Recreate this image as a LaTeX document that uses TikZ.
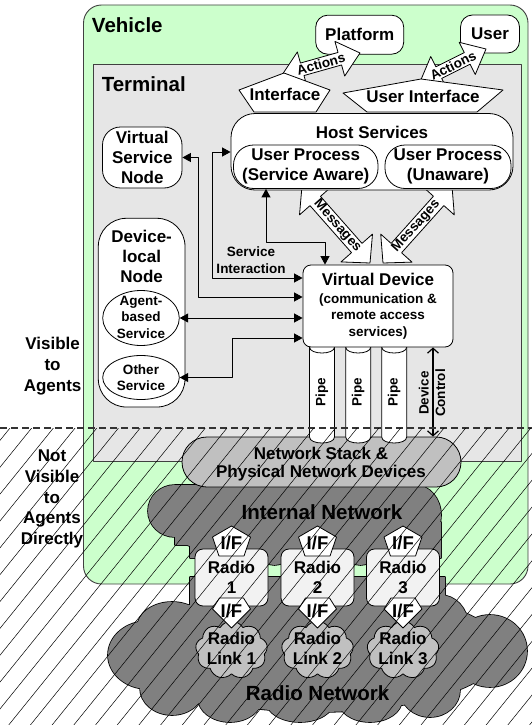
\documentclass[tikz,border=0pt]{standalone}
\usepackage{fontspec}
\setmainfont{Liberation Sans}
\usetikzlibrary{arrows.meta,calc,shapes.symbols,shapes.geometric}

\definecolor{vehgreen}{HTML}{CCFFCC}
\definecolor{termgray}{HTML}{E6E6E6}
\definecolor{stackgray}{HTML}{C0C0C0}
\definecolor{netgray}{HTML}{808080}
\definecolor{radiogray}{HTML}{F2F2F2}

\newcommand\txtbig{\fontsize{20.5}{24}\selectfont\bfseries}
\newcommand\txtmid{\fontsize{17}{20}\selectfont\bfseries}
\newcommand\txtsmall{\fontsize{13.5}{16.5}\selectfont\bfseries}
\newcommand\txtif{\fontsize{18.5}{20}\selectfont\bfseries}

% double-headed block arrow: from, to, head length, head half width, shaft half width
\newcommand\blockarrow[5]{%
  \draw[blockarr] (#1)
    -- ($(#1)!#3!(#2)!#4!90:(#2)$) -- ($(#1)!#3!(#2)!#5!90:(#2)$)
    -- ($(#2)!#3!(#1)!#5!-90:(#1)$) -- ($(#2)!#3!(#1)!#4!-90:(#1)$)
    -- (#2)
    -- ($(#2)!#3!(#1)!#4!90:(#1)$) -- ($(#2)!#3!(#1)!#5!90:(#1)$)
    -- ($(#1)!#3!(#2)!#5!-90:(#2)$) -- ($(#1)!#3!(#2)!#4!-90:(#2)$)
    -- cycle;}

% outline pieces of the two network clouds
\newcommand\internalnet{
  (175,511) ellipse [x radius=27pt, y radius=26pt]
  (175,485) rectangle (415,545)
  (415,515) ellipse [x radius=26pt, y radius=30pt]
  (190,522) rectangle (441,558)
  (203,535) ellipse [x radius=25pt, y radius=13pt]
  (274.5,557) ellipse [x radius=12pt, y radius=8pt]
  (360.5,557) ellipse [x radius=12pt, y radius=8pt]}
\newcommand\radionet{
  (317,650) ellipse [x radius=185pt, y radius=62pt]
  (190,577) rectangle (445,640)
  (148,655) ellipse [x radius=40pt, y radius=34pt]
  (172,628) ellipse [x radius=35pt, y radius=26pt]
  (440,625) ellipse [x radius=28pt, y radius=30pt]
  (490,651) ellipse [x radius=37pt, y radius=36pt]
  (430,690) ellipse [x radius=30pt, y radius=27pt]
  (370,700) ellipse [x radius=32pt, y radius=22pt]
  (300,701) ellipse [x radius=34pt, y radius=21pt]
  (230,698) ellipse [x radius=32pt, y radius=24pt]
  (172,688) ellipse [x radius=32pt, y radius=27pt]}

\begin{document}
\begin{tikzpicture}[x=1pt,y=-1pt,line join=round,
  frame/.style={draw=black!75, line width=0.9pt, inner sep=0pt},
  rbox/.style={draw=black, fill=white, line width=0.8pt, inner sep=0pt, align=center},
  lbl/.style={inner sep=0pt, align=center},
  conn/.style={draw=black, line width=0.9pt,
    {Triangle[length=8.5pt,width=9pt]}-{Triangle[length=8.5pt,width=9pt]}},
  devarrow/.style={draw=black, line width=1.2pt,
    {Straight Barb[length=5pt,width=11pt]}-{Straight Barb[length=5pt,width=11pt]}},
  blockarr/.style={draw=black, fill=white, line width=0.8pt},
  pentagonbox/.style={draw=black, fill=white, line width=0.8pt},
  pipebody/.style={fill=white},
  pipeline/.style={draw=black, line width=0.8pt},
  linkcloud/.style={draw=black, fill=stackgray, line width=0.8pt, cloud, cloud puffs=9,
    cloud puff arc=120, cloud ignores aspect, minimum width=72pt, minimum height=58pt, inner sep=0pt},
  hatchline/.style={draw=black, line width=0.5pt},
  divider/.style={draw=black!80, line width=1.4pt, dash pattern=on 7pt off 4pt}]

\useasboundingbox (0,0) rectangle (532,725);

% vehicle and terminal frames
\node[frame, fill=vehgreen, rounded corners=18pt, minimum width=444.5pt, minimum height=579pt] (vehicle) at (305.75,294.5) {};
\node[lbl, font=\txtbig] (vehlbl) at (127.3,24.8) {Vehicle};
\node[frame, fill=termgray, minimum width=428.2pt, minimum height=396.5pt] (terminal) at (307.4,262.75) {};
\node[lbl, font=\txtbig] (termlbl) at (143.8,84) {Terminal};

% platform and user
\node[rbox, rounded corners=12pt, minimum width=88pt, minimum height=39pt, font=\txtmid] (platform) at (359.7,34.7) {Platform};
\node[rbox, rounded corners=12pt, minimum width=59pt, minimum height=38pt, font=\txtmid] (user) at (490,34) {User};

% action arrows
\coordinate (act1a) at (282,75);
\coordinate (act1b) at (360,53);
\coordinate (act2a) at (420,82);
\coordinate (act2b) at (486,49);
\blockarrow{act1a}{act1b}{21pt}{18pt}{6.5pt}
\blockarrow{act2a}{act2b}{21pt}{18pt}{6.5pt}

% interfaces
\draw[pentagonbox] (239,90) -- (284,73) -- (330,90) -- (316,112) -- (254,112) -- cycle;
\node[lbl, font=\txtmid] (iface) at (285,94) {Interface};
\draw[pentagonbox] (343,93) -- (421,79) -- (503,90) -- (477,112) -- (367,112) -- cycle;
\node[lbl, font=\txtmid] (uiface) at (423,96) {User Interface};
\path (act1a) -- (act1b) node[lbl, midway, sloped, font=\txtsmall] (act1lbl) {Actions};
\path (act2a) -- (act2b) node[lbl, midway, sloped, font=\txtsmall] (act2lbl) {Actions};

% message arrows
\coordinate (msg1a) at (302,186);
\coordinate (msg1b) at (370,263);
\coordinate (msg2a) at (452,186);
\coordinate (msg2b) at (383,263);
\blockarrow{msg1a}{msg1b}{20pt}{21pt}{7pt}
\blockarrow{msg2a}{msg2b}{20pt}{21pt}{7pt}
\path (msg1a) -- (msg1b) node[lbl, pos=0.52, sloped, font=\txtsmall] (msg1lbl) {Messages};
\path (msg2b) -- (msg2a) node[lbl, pos=0.48, sloped, font=\txtsmall] (msg2lbl) {Messages};

% host services
\node[rbox, rounded corners=24pt, minimum width=282pt, minimum height=76.5pt] (hostsvc) at (372,151.75) {};
\node[lbl, font=\txtmid] (hostlbl) at (372,132) {Host Services};
\node[rbox, rounded corners=20pt, minimum width=144.5pt, minimum height=43.5pt, font=\txtmid] (upaware) at (305.75,166.75) {User Process\\(Service Aware)};
\node[rbox, rounded corners=20pt, minimum width=126pt, minimum height=43.5pt, font=\txtmid] (upunaware) at (448,166.75) {User Process\\(Unaware)};

% service nodes
\node[rbox, rounded corners=18pt, minimum width=79.5pt, minimum height=61pt, font=\txtmid] (vsn) at (142.25,157.5) {Virtual\\Service\\Node};
\node[rbox, rounded corners=28pt, minimum width=86.7pt, minimum height=188.7pt] (dln) at (141.65,312.65) {};
\node[lbl, font=\txtmid] (dlnlbl) at (141.65,256.5) {Device-\\local\\Node};
\node[rbox, ellipse, minimum width=76.6pt, minimum height=55pt] (agentsvc) at (141,318) {};
\node[lbl, font=\txtsmall] (agentlbl) at (141,317) {Agent-\\based\\Service};
\node[rbox, ellipse, minimum width=76.6pt, minimum height=44pt] (othersvc) at (141,377.5) {};
\node[lbl, font=\txtsmall] (otherlbl) at (141,377.5) {Other\\Service};

% internal network and network stack
\draw[fill=netgray, draw=black, line width=1.6pt] \internalnet;
\fill[netgray] \internalnet;
\node[rbox, fill=stackgray, rounded corners=25pt, minimum width=279pt, minimum height=50pt] (nstack) at (321.5,462) {};
\node[lbl, font=\fontsize{17}{17.5}\selectfont\bfseries] (nstacklbl) at (321,464) {Network Stack \&\\Physical Network Devices};
\node[lbl, font=\txtbig] (intnetlbl) at (322,512.6) {Internal Network};

% pipes
\foreach \px in {309.5,345.7,381.7}{
  \path[pipebody] (\px,343) -- (\px,437) .. controls (\px,445) and (\px+25,445) .. (\px+25,437) -- (\px+25,343) -- cycle;
  \draw[pipeline] (\px,343) -- (\px,437) .. controls (\px,445) and (\px+25,445) .. (\px+25,437) -- (\px+25,343);
  \draw[pipeline] (\px,347) .. controls (\px,355) and (\px+25,355) .. (\px+25,347);
}
\node[lbl, rotate=90, font=\txtsmall] (pipe1) at (322,392) {Pipe};
\node[lbl, rotate=90, font=\txtsmall] (pipe2) at (358.2,392) {Pipe};
\node[lbl, rotate=90, font=\txtsmall] (pipe3) at (394.2,392) {Pipe};

% virtual device
\node[rbox, rounded corners=8pt, minimum width=150pt, minimum height=82pt, font=\txtsmall] (vd) at (378,306)
  {{\txtmid Virtual Device}\\[1.5pt](communication \&\\remote access\\services)};

% device control
\draw[devarrow] (vd.south -| 433,0) -- (nstack.north -| 433,0);
\node[lbl, rotate=90, font=\txtsmall] (dctl) at (432,393) {Device\\Control};

% service connectors
\draw[conn] (vsn.east) -- (198,157.5) -- (198,297) -- (vd.west |- 0,297);
\draw[conn] (hostsvc.west |- 0,152) -- (212,152) -- (212,278) -- (vd.west |- 0,278);
\draw[conn] (upaware.south -| 266,0) -- (266,242) -- (325,242) -- (vd.north -| 325,0);
\draw[conn] (agentsvc.east) -- (vd.west |- agentsvc.east);
\draw[conn] (othersvc.east) -| (232,338) -- (vd.west |- 0,338);
\node[lbl, font=\txtsmall] (silbl) at (251,260) {Service\\Interaction};

% radio network
\draw[fill=netgray, draw=black, line width=1.6pt] \radionet;
\fill[netgray] \radionet;
\node[lbl, font=\txtbig] (radnetlbl) at (317.6,693.5) {Radio Network};

% radios, links and interfaces
\foreach \cx/\n in {231.5/1,317.5/2,403/3}{
  \node[rbox, fill=radiogray, rounded corners=8pt, minimum width=73pt, minimum height=57pt, font=\txtmid] (radio\n) at (\cx,577.5) {Radio\\\n};
  \node[linkcloud] (link\n) at (\cx,650) {};
  \node[lbl, font=\txtmid] (linklbl\n) at (\cx,648) {Radio\\Link \n};
  \draw[pentagonbox] (\cx,526) -- (\cx+19,537) -- (\cx+12.5,556) -- (\cx-12.5,556) -- (\cx-19,537) -- cycle;
  \node[lbl, font=\txtif] (ifup\n) at (\cx,543) {I/F};
  \draw[pentagonbox] (\cx-12,598) -- (\cx+12,598) -- (\cx+19,609) -- (\cx,628) -- (\cx-19,609) -- cycle;
  \node[lbl, font=\txtif] (iflow\n) at (\cx,611) {I/F};
}

% visibility labels
\node[lbl, font=\fontsize{17}{21}\selectfont\bfseries] (visiblelbl) at (52.6,366.5) {Visible\\to\\Agents};
\node[lbl, font=\fontsize{17}{20.7}\selectfont\bfseries] (notvislbl) at (52,499) {Not\\Visible\\to\\Agents\\Directly};

% visibility boundary and hatching
\draw[divider] (0,428) -- (532,428);
\begin{scope}
  \clip (0,428) rectangle (532,725);
  \foreach \i in {0,...,36}
    \draw[hatchline] ({10+21.7*\i},428) -- ({10+21.7*\i-240},725);
\end{scope}
\end{tikzpicture}
\end{document}
